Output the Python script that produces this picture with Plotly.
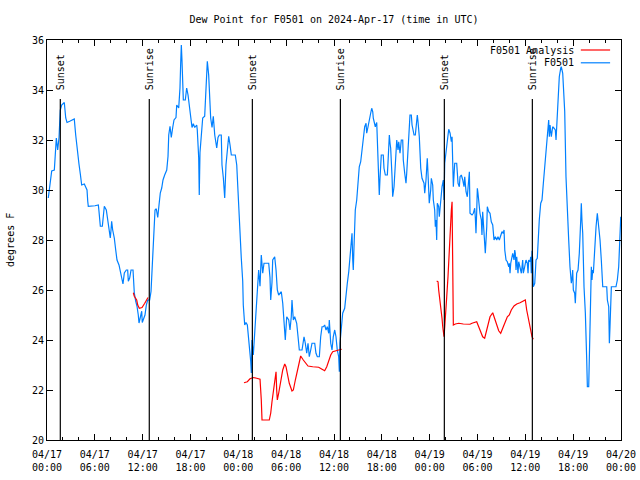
import plotly.graph_objects as go

# Hours since 2024-04-17 00:00 UTC
obs_hours = [0.16,0.34,0.59,0.92,1.00,1.17,1.34,1.51,1.59,1.67,1.84,2.17,2.35,2.51,2.85,3.42,3.60,3.76,3.85,4.01,
 4.18,4.35,4.68,5.02,5.11,5.18,6.02,6.44,6.52,6.69,6.94,7.11,7.19,7.44,7.61,7.78,7.94,8.03,8.11,8.24,
 8.44,8.62,8.78,9.03,9.19,9.37,9.53,9.70,9.95,10.12,10.20,10.37,10.54,10.79,10.88,10.95,11.13,11.29,11.45,11.54,
 11.70,11.88,11.95,12.13,12.29,12.46,12.63,12.88,13.05,13.21,13.38,13.55,13.71,13.89,14.05,14.21,14.39,14.55,14.76,15.02,
 15.18,15.27,15.43,15.59,15.77,15.93,16.18,16.27,16.52,16.68,16.77,16.85,16.93,17.02,17.10,17.35,17.52,17.69,17.85,18.03,
 18.19,18.35,18.53,18.78,18.85,19.03,19.10,19.19,19.36,19.53,19.78,19.94,20.11,20.28,20.36,20.53,20.70,20.86,21.04,21.29,
 21.45,21.61,21.86,21.95,22.12,22.29,22.45,22.62,22.79,22.96,23.12,23.62,23.80,23.96,24.12,24.21,24.37,24.55,24.62,24.80,
 24.96,25.13,25.30,25.46,25.55,25.63,25.71,25.88,26.05,26.30,26.55,26.72,26.88,27.06,27.22,27.81,27.97,28.06,28.22,28.31,
 28.56,28.73,28.89,29.06,29.39,29.57,29.73,29.89,30.07,30.32,30.48,30.64,30.73,30.90,31.07,31.32,31.49,31.65,31.99,32.24,
 32.40,32.58,32.74,32.90,33.08,33.24,33.58,33.74,33.91,34.16,34.33,34.50,34.66,34.83,35.00,35.16,35.34,35.41,35.59,35.75,
 35.91,36.09,36.25,36.41,36.59,36.67,36.75,36.92,37.09,37.34,37.51,37.67,37.85,38.01,38.10,38.26,38.35,38.42,38.51,38.60,
 38.67,38.85,39.01,39.17,39.35,39.51,39.68,39.85,40.02,40.10,40.27,40.43,40.60,40.73,40.86,40.93,41.11,41.18,41.36,41.43,
 41.61,41.68,41.77,41.86,41.93,42.18,42.27,42.44,42.69,42.77,42.94,43.03,43.11,43.28,43.36,43.53,43.69,43.87,44.03,44.12,
 44.28,44.44,44.62,44.69,44.87,45.03,45.12,45.28,45.45,45.53,45.70,45.79,45.87,46.04,46.20,46.29,46.38,46.45,46.54,46.70,
 46.88,47.04,47.29,47.38,47.54,47.70,47.79,47.88,47.95,48.13,48.21,48.38,48.46,48.63,48.71,48.80,48.88,48.96,49.13,49.21,
 49.39,49.55,49.71,49.80,49.89,50.05,50.22,50.39,50.56,50.72,50.81,50.89,50.97,51.14,51.39,51.56,51.72,51.81,51.97,52.15,
 52.31,52.40,52.56,52.72,52.90,52.98,53.06,53.31,53.48,53.65,53.73,53.81,53.90,53.98,54.06,54.15,54.31,54.48,54.56,54.65,
 54.73,54.81,54.98,55.16,55.23,55.41,55.57,55.73,55.91,56.07,56.24,56.41,56.57,56.74,56.91,57.07,57.24,57.33,57.42,57.58,
 57.74,57.92,57.99,58.08,58.17,58.33,58.42,58.58,58.67,58.74,58.83,58.92,59.08,59.17,59.33,59.50,59.67,59.75,59.92,60.08,
 60.25,60.34,60.42,60.59,60.68,60.75,60.84,60.93,61.00,61.18,61.25,61.34,61.50,61.59,61.75,61.93,62.09,62.26,62.43,62.59,
 62.76,62.93,63.01,63.10,63.26,63.43,63.60,63.76,63.85,63.93,64.10,64.26,64.44,64.51,64.69,64.76,64.94,65.10,65.26,65.35,
 65.44,65.60,65.77,65.86,65.94,66.02,66.19,66.27,66.36,66.44,66.61,66.77,66.95,67.02,67.11,67.20,67.36,67.53,67.70,67.78,
 67.95,68.03,68.20,68.28,68.36,68.45,68.53,68.70,68.87,69.03,69.21,69.37,69.53,69.71,70.21,70.29,70.46,70.54,70.62,70.71,
 70.79,71.37,71.54,71.71,71.88,71.97]

obs_dewpt = [29.68,30.08,30.76,30.8,31.2,32.08,31.6,32.1,32.68,33.2,33.4,33.5,32.88,32.7,32.75,32.84,32.2,31.68,31.28,31.04,
 30.64,30.2,30.24,30.0,29.55,29.35,29.37,29.4,29.15,28.55,28.55,29.0,29.35,29.2,28.75,28.4,28.08,28.4,28.75,28.4,
 28.08,27.6,27.2,27.0,26.75,26.48,26.24,26.68,26.8,26.8,26.35,26.48,26.8,26.8,26.2,25.88,25.55,25.35,25.0,24.68,
 24.9,25.15,24.7,24.85,25.0,25.4,25.6,25.6,25.95,27.0,28.08,29.2,29.25,28.9,29.4,29.88,30.08,30.4,30.6,30.8,
 31.35,32.2,32.55,32.1,32.5,32.8,32.9,33.4,33.28,34.08,35.08,35.8,35.2,34.35,33.6,33.6,34.08,33.8,33.4,32.8,
 32.5,32.65,32.5,32.6,32.4,31.28,29.8,31.5,32.4,32.88,32.95,34.08,35.15,34.6,34.2,32.88,32.5,32.95,32.2,31.68,
 32.1,32.2,32.2,31.0,30.48,29.68,31.0,31.7,32.15,31.8,31.4,31.4,31.0,29.95,28.75,27.95,27.28,26.35,25.4,24.6,
 24.7,24.6,24.08,23.68,23.15,22.68,24.0,23.4,24.4,25.33,26.8,26.15,27.4,26.67,27.07,27.07,26.5,25.6,26.3,27.2,
 27.33,26.8,26.0,25.8,25.93,25.47,24.53,24.0,24.93,24.8,24.4,24.93,25.6,24.8,24.93,24.67,24.13,23.6,23.6,24.13,
 23.87,23.47,23.87,23.33,23.6,23.87,23.87,23.47,23.33,23.33,24.13,24.53,24.53,24.6,24.4,24.53,24.27,24.8,23.87,23.6,
 24.13,24.4,24.13,23.6,23.33,22.73,23.87,24.67,25.07,25.27,25.87,26.27,26.73,27.33,28.0,28.27,27.2,26.8,27.73,28.73,
 29.2,29.6,30.2,30.93,31.13,31.6,32.13,32.53,32.67,32.27,32.53,32.87,33.07,33.27,33.13,32.87,32.67,32.53,32.7,31.93,
 30.53,29.8,30.47,30.93,31.4,31.4,30.87,30.6,30.6,31.07,32.2,31.87,31.67,30.53,29.73,30.13,30.93,32.0,31.6,31.93,
 31.47,32.0,32.0,31.2,30.67,30.27,30.67,31.87,32.53,33.0,33.0,32.6,32.4,32.2,32.2,32.53,32.8,33.0,32.73,32.13,
 30.87,30.47,30.27,29.87,30.4,31.27,30.67,30.0,29.47,30.0,30.47,30.2,29.6,29.2,28.53,28.8,28.0,29.47,29.33,28.93,
 29.73,30.13,30.4,29.6,31.07,31.6,32.13,32.43,32.27,31.93,32.13,31.2,30.13,31.07,31.07,30.27,30.13,30.53,30.6,30.4,
 30.13,30.53,29.93,29.73,30.4,30.73,29.07,29.0,29.07,29.27,28.87,28.27,29.13,30.07,29.87,29.47,29.07,28.8,28.2,29.13,
 28.73,27.87,27.47,28.53,29.33,29.13,29.07,28.73,28.6,28.0,28.13,28.0,28.13,28.0,28.2,28.33,28.27,28.4,27.6,27.2,
 27.13,26.93,27.07,26.67,27.07,27.33,27.47,27.2,27.6,27.47,26.8,27.33,26.67,27.13,26.93,26.67,27.2,26.67,26.93,27.2,
 27.07,26.67,27.2,27.13,27.33,26.67,27.57,27.2,26.13,26.27,26.67,27.2,27.27,28.0,28.8,29.47,29.6,30.27,30.93,31.6,
 32.13,32.8,32.13,32.6,32.13,32.53,32.47,32.4,32.0,32.47,33.8,34.53,34.87,34.93,34.67,34.0,33.13,30.53,28.93,28.53,
 28.0,26.93,26.27,26.47,26.8,26.0,25.87,25.47,26.0,26.67,26.8,27.47,28.8,29.47,28.73,28.27,26.13,25.07,23.2,22.13,
 22.13,23.33,25.6,26.93,26.4,26.8,26.67,27.73,28.53,29.07,28.53,28.0,27.2,26.13,26.13,25.6,25.33,23.87,24.53,25.6,
 26.13,26.13,26.4,26.93,28.0,28.93]

ana_hours = [10.83,10.95,11.25,11.38,11.58,11.92,12.26,12.51,12.67, None,
 24.71,25.13,25.46,25.88,26.30,26.72,26.88,26.97,27.88,28.06,28.22,28.39,28.56,28.73,28.81,28.89,29.06,29.23,29.39,29.57,
 29.82,29.98,30.14,30.39,30.73,30.90,31.15,31.40,31.65,31.82,32.15,32.49,32.74,33.33,34.08,34.50,34.83,35.09,35.34,35.59,
 35.84,36.16,36.59,36.97, None,
 48.88,49.05,49.13,49.30,49.39,49.55,49.64,49.71,49.80,49.89,49.97,50.14,50.30,50.39,50.47,50.64,50.72,50.81,50.89,50.97,
 51.22,51.64,52.22,52.65,53.06,53.31,53.65,53.90,54.15,54.40,54.65,54.90,55.07,55.32,55.57,55.91,56.16,56.41,56.66,56.91,
 57.16,57.42,57.74,57.99,58.24,58.58,58.92,59.33,59.75,60.00,60.17,60.42,60.59,60.84,61.00]

ana_dewpt = [25.89,25.75,25.6,25.4,25.27,25.3,25.47,25.6,25.7, None,
 22.29,22.33,22.45,22.5,22.47,22.43,21.6,20.8,20.8,21.07,21.53,22.0,22.4,22.73,22.0,21.6,21.87,22.2,22.4,22.8,
 23.04,22.93,22.67,22.27,21.96,22.0,22.4,22.8,23.2,23.36,23.2,23.07,22.96,22.93,22.91,22.83,22.77,22.93,23.2,23.4,
 23.53,23.57,23.6,23.63, None,
 26.36,26.33,26.0,25.6,25.2,24.87,24.53,24.27,24.13,24.53,25.07,25.73,26.53,27.2,27.87,28.8,29.2,29.53,27.13,24.6,
 24.64,24.67,24.64,24.63,24.63,24.67,24.71,24.73,24.53,24.33,24.13,24.07,24.27,24.67,24.93,25.09,24.87,24.6,24.37,24.27,
 24.47,24.73,24.93,25.0,25.2,25.36,25.44,25.49,25.57,25.6,25.2,24.8,24.53,24.13,24.03]

sun_hours = [1.67, 12.83, 25.76, 36.80, 49.84, 60.88]
sun_labels = ["Sunset", "Sunrise", "Sunset", "Sunrise", "Sunset", "Sunrise"]

x_tickvals = [0, 6, 12, 18, 24, 30, 36, 42, 48, 54, 60, 66, 72]
x_ticktext = ["04/17<br>00:00", "04/17<br>06:00", "04/17<br>12:00", "04/17<br>18:00",
              "04/18<br>00:00", "04/18<br>06:00", "04/18<br>12:00", "04/18<br>18:00",
              "04/19<br>00:00", "04/19<br>06:00", "04/19<br>12:00", "04/19<br>18:00",
              "04/20<br>00:00"]
y_tickvals = [20, 22, 24, 26, 28, 30, 32, 34, 36]

FONT = "DejaVu Sans Mono"
BLUE = "#0080ff"
RED = "#ff0000"

fig = go.Figure()
fig.add_trace(go.Scatter(x=obs_hours, y=obs_dewpt, mode="lines", name="F0501",
                         line=dict(color=BLUE, width=1.2), showlegend=False))
fig.add_trace(go.Scatter(x=ana_hours, y=ana_dewpt, mode="lines", name="F0501 Analysis",
                         line=dict(color=RED, width=1.2), connectgaps=False, showlegend=False))

line_top = 33.64
for h, lab in zip(sun_hours, sun_labels):
    fig.add_shape(type="line", x0=h, x1=h, y0=20, y1=line_top, xref="x", yref="y",
                  line=dict(color="black", width=1.2))
    fig.add_annotation(x=h, y=33.92, xref="x", yref="y", text=lab, textangle=-90,
                       showarrow=False, xanchor="center", yanchor="bottom",
                       font=dict(family=FONT, size=10, color="black"))

# legend (gnuplot style: text then sample)
for lab, col, yp in [("F0501 Analysis", RED, 0.975), ("F0501", BLUE, 0.943)]:
    fig.add_annotation(x=0.921, y=yp, xref="paper", yref="paper", text=lab, showarrow=False,
                       xanchor="right", yanchor="middle", font=dict(family=FONT, size=10, color="black"))
    fig.add_shape(type="line", x0=0.930, x1=0.981, y0=yp, y1=yp, xref="paper", yref="paper",
                  line=dict(color=col, width=1.2))

fig.add_annotation(x=-0.0645, y=0.5, xref="paper", yref="paper", text="degrees F", textangle=-90,
                   showarrow=False, xanchor="center", yanchor="middle",
                   font=dict(family=FONT, size=10, color="black"))

fig.update_layout(
    width=640, height=480, autosize=False,
    margin=dict(l=47, r=19, t=40, b=40),
    paper_bgcolor="white", plot_bgcolor="white",
    title=dict(text="Dew Point for F0501 on 2024-Apr-17 (time in UTC)", x=0.5, xref="paper",
               y=0.96, yref="container", xanchor="center", yanchor="middle",
               font=dict(family=FONT, size=10, color="black")),
    font=dict(family=FONT, size=10, color="black"),
    showlegend=False,
)
fig.update_xaxes(range=[0, 72], tickvals=x_tickvals, ticktext=x_ticktext, ticks="inside",
                 ticklen=6, tickcolor="black", showgrid=False, zeroline=False, showline=True,
                 linecolor="black", linewidth=1, mirror="ticks", automargin=False,
                 ticklabelstandoff=5,
                 minor=dict(dtick=2, tick0=0, ticks="inside", ticklen=3, tickcolor="black", showgrid=False),
                 tickfont=dict(family=FONT, size=10, color="black"))
fig.update_yaxes(range=[20, 36], tickvals=y_tickvals, ticks="inside", ticklen=6, tickcolor="black",
                 showgrid=False, zeroline=False, showline=True, linecolor="black", linewidth=1,
                 mirror="ticks", automargin=False, tickfont=dict(family=FONT, size=10, color="black"))

fig.write_html("out.html", config={"displayModeBar": False},
               post_script="document.body.style.margin='0';document.body.style.padding='0';")
